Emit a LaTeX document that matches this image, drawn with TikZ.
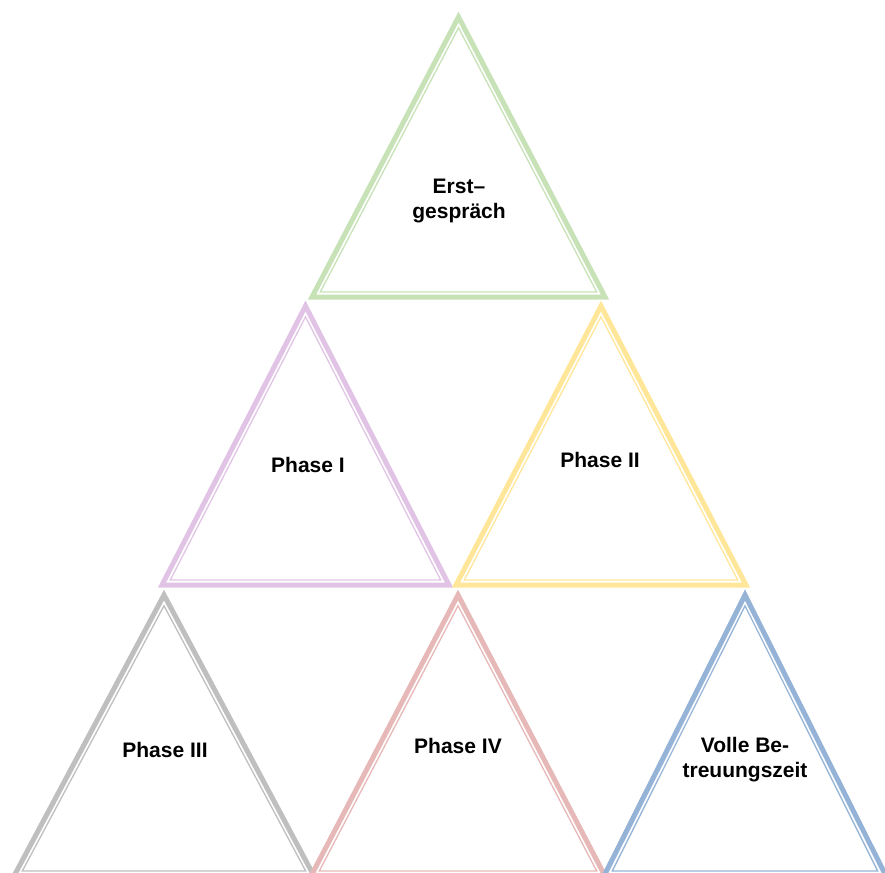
\documentclass[tikz,border=0pt]{standalone}
\usepackage{fontspec}
\setmainfont{Liberation Sans}
\usepackage{tikz}
\usepackage{xcolor}

\definecolor{trigreen}{RGB}{199,226,182}
\definecolor{trililac}{RGB}{225,196,229}
\definecolor{triyellow}{RGB}{255,230,153}
\definecolor{trigray}{RGB}{191,191,191}
\definecolor{trirose}{RGB}{230,184,183}
\definecolor{triblue}{RGB}{149,179,215}

% apex x, apex y, base y, half width, colour
\newcommand{\phasetri}[5]{%
  \draw[#5,line width=5pt] (#1,#2) -- ({#1+#4},#3) -- ({#1-#4},#3) -- cycle;
  \draw[#5,line width=1.3pt] (#1,{#2+10.8}) -- ({#1+#4-8.3},{#3-5})
    -- ({#1-#4+8.3},{#3-5}) -- cycle;}

\begin{document}
\begin{tikzpicture}[x=1pt,y=-1pt]
  \tikzstyle{lbl} = [font=\fontsize{21}{25}\selectfont\bfseries,align=center,inner sep=1pt]
  \useasboundingbox (0,0) rectangle (885,872);
  %%
  \phasetri{458.5}{17}{297}{146.5}{trigreen}
  \phasetri{305.5}{306}{585}{143.5}{trililac}
  \phasetri{601}{306}{585}{145}{triyellow}
  \phasetri{164}{595}{876}{150}{trigray}
  \phasetri{458}{595}{876}{147}{trirose}
  \phasetri{745}{595}{876}{141}{triblue}
  %%
  \node[lbl] (erst) at (459,201) {Erst–\\gespräch};
  \node[lbl] (phaseI) at (308,465) {Phase I};
  \node[lbl] (phaseII) at (600,460) {Phase II};
  \node[lbl] (phaseIII) at (165,750) {Phase III};
  \node[lbl] (phaseIV) at (458,746) {Phase IV};
  \node[lbl] (volle) at (745,760) {Volle Be-\\treuungszeit};
\end{tikzpicture}
\end{document}
